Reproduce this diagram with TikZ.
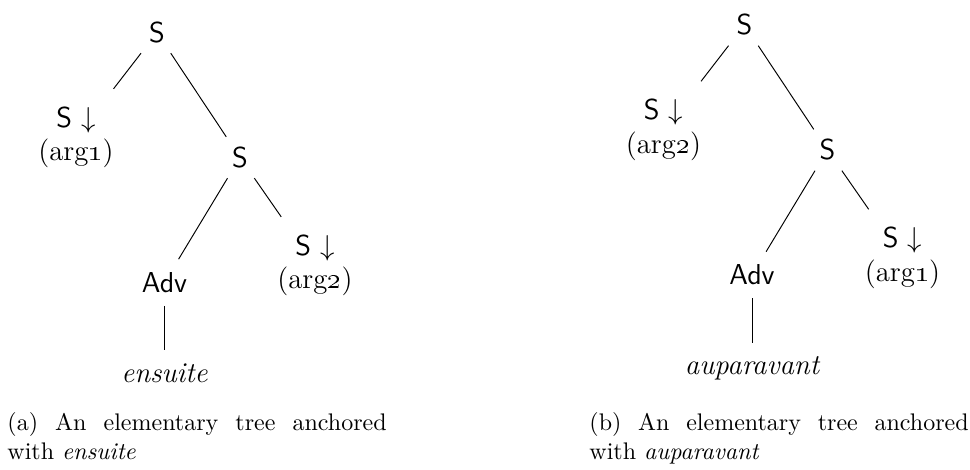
\documentclass[tikz,border=0pt]{standalone}
\usepackage{amsmath,amssymb}
\usepackage{tikz}

\begin{document}
\begin{tikzpicture}[x=0.41667pt,y=-0.41667pt,
  cat/.style={font=\large\sffamily,inner sep=4pt},
  argnode/.style={font=\large,align=center,inner sep=4pt,outer sep=3.5pt},
  lexnode/.style={font=\large\itshape,inner sep=4pt,outer sep=1.5pt,anchor=base},
  capt/.style={text width=158pt,align=justify,inner sep=0pt,anchor=north west}]
\useasboundingbox (0,0) rectangle (970,469);
% one elementary tree per anchor, right one shifted by the depth of its anchor
\foreach \t/\dx/\dy/\cx/\argl/\argr/\lex in {a/0/0/7/1/2/ensuite, b/587.5/-7.5/589/2/1/auparavant}{
  \begin{scope}[shift={(\dx,\dy)}]
  \node[cat] (root\t) at (157,32.5) {S};
  \node[argnode] (argl\t) at (76,137.5) {{\sffamily S $\downarrow$}\\(arg\oldstylenums{\argl})};
  \node[cat] (mid\t) at (240,157.5) {S};
  \node[cat,outer sep=1.5pt] (adv\t) at (164.5,282.5) {Adv};
  \node[argnode] (argr\t) at (315,265.5) {{\sffamily S $\downarrow$}\\(arg\oldstylenums{\argr})};
  \node[lexnode] (lex\t) at (164.5,382) {\lex};
  \draw (root\t) -- (argl\t);
  \draw (root\t) -- (mid\t);
  \draw (mid\t) -- (adv\t);
  \draw (mid\t) -- (argr\t);
  \draw (adv\t) -- (lex\t);
  \end{scope}
  \node[capt] (cap\t) at (\cx,412) {(\t) An elementary tree anchored\linebreak with \emph{\lex}};
}
\end{tikzpicture}
\end{document}
